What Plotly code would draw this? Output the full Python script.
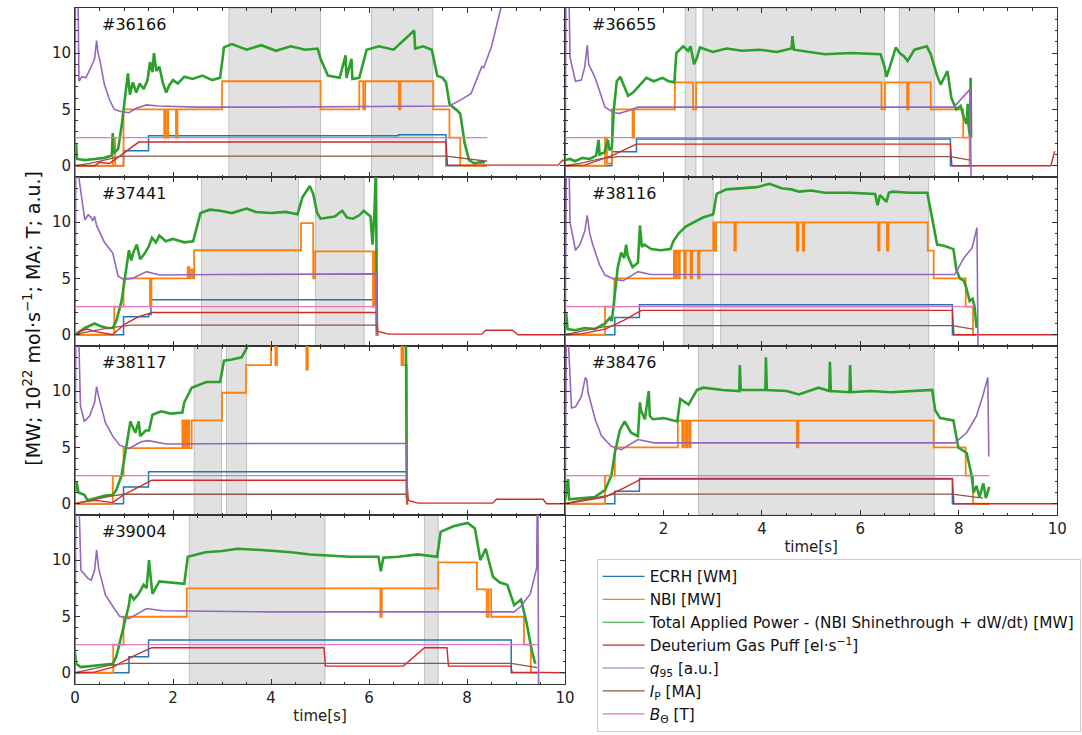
import plotly.graph_objects as go

# ---------------------------------------------------------------
# Discharge overview: heating, fuelling and equilibrium traces
# ---------------------------------------------------------------
shots = ["36166", "36655", "37441", "38116", "38117", "38476", "39004"]
grid_pos = [(0, 0), (0, 1), (1, 0), (1, 1), (2, 0), (2, 1), (3, 0)]

# shaded analysis windows [s]
spans_36166 = [(3.14, 5.01), (6.05, 7.30)]
spans_36655 = [(2.44, 2.66), (2.80, 6.49), (6.79, 7.51)]
spans_37441 = [(2.58, 4.56), (4.91, 5.90)]
spans_38116 = [(2.41, 3.01), (3.16, 7.39)]
spans_38117 = [(2.43, 2.99), (3.09, 3.50)]
spans_38476 = [(2.71, 7.50)]
spans_39004 = [(2.33, 5.10), (7.13, 7.41)]

# ---------------- #36166 : (t [s], value) ----------------
ecrh_36166 = [(0, 0), (0.99, 1.33), (1.5, 2.66), (6.6, 2.75), (7.57, 0), (8.4, 0)]
nbi_36166 = [(0, 0), (0.77, 2.5), (0.82, 0), (0.99, 5.0), (1.82, 2.5), (1.84, 5.0), (1.88, 2.5),
             (1.9, 5.0), (2.06, 2.5), (2.09, 5.0), (3.0, 7.5), (5.01, 5.0), (5.8, 7.5), (5.88, 5.0),
             (5.92, 7.5), (6.61, 5.0), (6.64, 7.5), (7.31, 5.0), (7.64, 2.5), (7.86, 0), (8.4, 0)]
ptot_36166 = [(0.0, 0.7), (0.02, 2.0), (0.04, 0.6), (0.2, 0.5), (0.4, 0.6), (0.6, 0.7), (0.75, 0.9),
              (0.77, 2.9), (0.79, 1.1), (0.88, 1.5), (0.95, 3.5), (0.99, 5.0), (1.04, 7.0), (1.08, 8.2),
              (1.12, 6.3), (1.18, 7.4), (1.25, 6.5), (1.32, 7.3), (1.4, 6.8), (1.48, 7.6), (1.53, 9.2),
              (1.58, 8.3), (1.61, 10.0), (1.66, 8.4), (1.72, 8.8), (1.79, 7.4), (1.86, 6.5), (1.93, 7.2),
              (2.0, 7.6), (2.1, 7.3), (2.23, 7.9), (2.4, 7.7), (2.6, 8.0), (2.8, 7.6), (2.96, 7.8),
              (3.04, 10.5), (3.2, 10.8), (3.5, 10.3), (3.8, 10.7), (4.1, 10.2), (4.4, 10.6), (4.7, 10.3),
              (4.95, 10.4), (5.01, 9.5), (5.16, 8.0), (5.4, 7.8), (5.52, 9.8), (5.54, 7.8), (5.64, 9.5),
              (5.66, 7.7), (5.8, 7.8), (5.95, 10.3), (6.2, 10.6), (6.5, 10.3), (6.92, 12.0), (6.94, 10.4),
              (7.1, 10.6), (7.28, 10.3), (7.39, 8.0), (7.5, 7.8), (7.57, 7.4), (7.64, 5.5), (7.71, 5.2),
              (7.8, 4.9), (7.86, 4.6), (7.95, 2.0), (8.04, 0.5), (8.15, 0.2), (8.25, 0.3), (8.36, 0.3)]
gas_36166 = [(0, 0), (0.4, 0.0), (0.5, 0.3), (0.7, 0.2), (0.8, 0.5), (1.3, 2.1), (7.57, 2.1),
             (7.6, 0.05), (9.86, 0.05), (9.95, 0.5), (10, 0.4)]
q95_36166 = [(0.0, -1), (0.01, 20), (0.05, 20), (0.08, 7.5), (0.14, 7.9), (0.22, 7.8), (0.3, 8.5),
             (0.4, 9.5), (0.44, 11.1), (0.47, 10.0), (0.51, 9.3), (0.6, 7.2), (0.7, 5.9), (0.8, 5.0),
             (0.95, 4.8), (1.1, 4.7), (1.25, 5.1), (1.46, 5.4), (1.7, 5.3), (2.5, 5.2), (4.0, 5.2),
             (6.0, 5.25), (7.64, 5.3), (7.85, 5.8), (8.08, 6.4), (8.3, 8.8), (8.34, 8.7), (8.5, 10.6),
             (8.74, 14.5), (8.8, 16)]
ip_36166 = [(0, 0), (0.3, 0.2), (0.6, 0.5), (0.9, 0.8), (1.1, 0.85), (7.57, 0.85), (8.41, 0.4)]
bt_36166 = [(0, 2.5), (8.41, 2.5)]

# ---------------- #36655 ----------------
ecrh_36655 = [(0, 0), (0.95, 1.25), (1.45, 2.37), (7.83, 0), (8.25, 0)]
nbi_36655 = [(0, 0), (0.81, 2.5), (0.85, 0.2), (0.95, 5.0), (1.37, 2.5), (1.40, 5.0), (2.23, 7.4),
             (2.6, 5.0), (2.66, 7.4), (6.43, 5.0), (6.5, 7.4), (6.95, 5.0), (6.98, 7.4), (7.43, 5.0),
             (8.09, 2.5), (8.22, 0), (8.25, 0)]
ptot_36655 = [(0, 0.5), (0.1, 0.6), (0.2, 0.4), (0.35, 0.7), (0.5, 0.6), (0.63, 0.9), (0.68, 2.3),
              (0.7, 1.0), (0.8, 1.2), (0.87, 2.3), (0.9, 1.4), (0.95, 1.6), (0.99, 5.0), (1.05, 7.5),
              (1.12, 7.9), (1.18, 7.3), (1.28, 6.2), (1.38, 6.5), (1.48, 7.0), (1.65, 7.8), (1.8, 7.5),
              (1.98, 7.8), (2.1, 7.5), (2.22, 7.4), (2.26, 10.0), (2.4, 10.6), (2.5, 10.2), (2.55, 10.6),
              (2.62, 9.0), (2.68, 9.6), (2.74, 10.5), (3.0, 10.1), (3.28, 10.4), (3.6, 10.2), (3.95, 10.3),
              (4.3, 10.1), (4.6, 10.4), (4.62, 11.5), (4.65, 10.3), (5.02, 10.1), (5.28, 9.9), (5.8, 10.0),
              (6.41, 9.9), (6.49, 8.8), (6.53, 7.9), (6.6, 8.8), (6.72, 10.5), (6.8, 10.0), (6.89, 9.7),
              (6.96, 9.3), (7.1, 10.3), (7.35, 10.6), (7.43, 9.9), (7.56, 8.0), (7.63, 7.2), (7.77, 8.4),
              (7.85, 6.0), (7.95, 5.0), (8.04, 5.3), (8.1, 4.3), (8.16, 3.7), (8.18, 5.5), (8.2, 3.5),
              (8.23, 2.5), (8.24, 7.8), (8.25, 2.5)]
gas_36655 = [(0, 0), (0.4, 0.05), (0.95, 0.9), (1.2, 1.4), (1.45, 1.92), (7.83, 1.92), (7.86, 0.0),
             (9.87, 0.0), (9.95, 1.3)]
q95_36655 = [(0, -1), (0.02, 20), (0.06, 20), (0.1, 9.6), (0.21, 7.5), (0.33, 7.6), (0.4, 8.8),
             (0.45, 10.7), (0.48, 9.0), (0.61, 7.8), (0.81, 5.2), (1.0, 4.7), (1.1, 4.65), (1.3, 4.9),
             (1.48, 5.2), (3.0, 5.2), (6.0, 5.2), (7.9, 5.2), (8.23, 6.8), (8.25, -1)]
ip_36655 = [(0, 0), (0.3, 0.2), (0.7, 0.6), (1.08, 0.8), (7.83, 0.8), (8.23, 0.5)]
bt_36655 = [(0, 2.5), (8.23, 2.5)]

# ---------------- #37441 ----------------
ecrh_37441 = [(0, 0), (0.99, 1.6), (1.5, 1.8), (1.55, 3.1), (6.15, 0), (6.2, 0)]
nbi_37441 = [(0, 0), (0.8, 2.5), (0.99, 5.0), (1.53, 2.5), (1.56, 5.0), (2.3, 6.0), (2.33, 5.0),
             (2.36, 5.8), (2.4, 5.0), (2.43, 7.5), (4.61, 9.9), (4.86, 5.0), (4.9, 7.4), (6.08, 2.5),
             (6.11, 7.4), (6.15, 0), (6.2, 0)]
ptot_37441 = [(0, 0), (0.1, 0.3), (0.2, 0.6), (0.3, 0.8), (0.4, 1.0), (0.5, 0.8), (0.65, 0.6),
              (0.77, 0.6), (0.84, 1.2), (0.95, 3.0), (1.06, 6.0), (1.1, 7.5), (1.15, 6.6), (1.19, 7.3),
              (1.26, 8.0), (1.33, 6.7), (1.42, 7.2), (1.5, 7.8), (1.57, 8.6), (1.65, 8.2), (1.72, 8.8),
              (1.85, 8.3), (2.0, 8.5), (2.23, 8.2), (2.41, 8.3), (2.5, 9.8), (2.56, 10.8), (2.75, 11.1),
              (2.96, 11.0), (3.2, 10.8), (3.5, 11.2), (3.69, 10.9), (4.0, 10.8), (4.3, 10.9), (4.54, 10.7),
              (4.64, 12.2), (4.72, 12.8), (4.79, 13.2), (4.86, 12.5), (4.94, 10.8), (5.01, 10.3),
              (5.16, 10.4), (5.3, 10.5), (5.45, 11.0), (5.55, 10.4), (5.67, 10.3), (5.8, 10.6),
              (5.89, 11.0), (6.03, 10.5), (6.07, 8.0), (6.11, 11.0), (6.14, 15.0), (6.16, 0.5)]
gas_37441 = [(0, 0), (0.1, 0.3), (0.25, 0.5), (0.4, 0.3), (0.77, 0.0), (1.0, 0.9), (1.3, 1.6),
             (1.58, 1.98), (6.15, 1.98), (6.18, 0.3), (6.4, 0.05), (8.3, 0.05), (8.38, 0.4),
             (8.92, 0.4), (9.04, 0.0), (10, 0.0)]
q95_37441 = [(0, -1), (0.02, 20), (0.06, 14.5), (0.15, 11.7), (0.2, 10.2), (0.27, 10.65), (0.33, 10.4),
             (0.36, 10.1), (0.4, 10.5), (0.44, 9.7), (0.6, 8.2), (0.77, 7.25), (0.88, 5.2), (0.99, 4.9),
             (1.17, 5.0), (1.46, 5.6), (1.72, 5.3), (3.0, 5.35), (6.15, 5.4), (6.16, 0)]
ip_37441 = [(0, 0), (0.3, 0.3), (0.7, 0.6), (1.15, 0.86), (6.15, 0.86), (6.18, 0)]
bt_37441 = [(0, 2.5), (6.15, 2.5)]

# ---------------- #38116 ----------------
ecrh_38116 = [(0, 0), (1.01, 1.54), (1.51, 2.66), (7.87, 0), (8.35, 0)]
nbi_38116 = [(0, 0), (0.81, 2.5), (1.0, 5.0), (2.21, 7.46), (2.24, 5.0), (2.26, 7.46), (2.3, 5.0),
             (2.33, 7.46), (2.42, 5.0), (2.45, 7.46), (2.55, 5.0), (2.58, 7.46), (2.7, 5.0), (2.73, 7.46),
             (3.01, 9.97), (3.03, 7.46), (3.07, 9.97), (3.44, 7.46), (3.47, 9.97), (4.71, 7.46),
             (4.74, 9.97), (4.83, 7.46), (4.86, 9.97), (6.36, 7.46), (6.39, 9.97), (6.54, 7.46),
             (6.57, 9.97), (7.37, 7.46), (7.49, 5.0), (8.14, 2.5), (8.29, 0), (8.35, 0)]
ptot_38116 = [(0, 0.7), (0.02, 2.0), (0.05, 0.5), (0.2, 0.4), (0.4, 0.6), (0.6, 0.5), (0.81, 1.0),
              (0.91, 1.5), (0.95, 1.2), (1.01, 3.5), (1.07, 6.0), (1.14, 7.3), (1.2, 6.8), (1.24, 8.0),
              (1.27, 7.0), (1.37, 6.0), (1.48, 6.4), (1.52, 9.7), (1.56, 7.8), (1.61, 8.0), (1.75, 7.6),
              (1.94, 7.5), (2.14, 7.6), (2.2, 8.3), (2.31, 9.0), (2.45, 9.6), (2.61, 10.0), (2.8, 10.4),
              (3.01, 10.7), (3.08, 12.5), (3.28, 12.9), (3.6, 13.0), (3.9, 13.1), (4.15, 13.4),
              (4.4, 13.0), (4.6, 12.9), (4.75, 12.7), (5.0, 12.8), (5.28, 12.6), (5.8, 12.6), (6.3, 12.5),
              (6.35, 11.5), (6.4, 12.4), (6.53, 11.8), (6.58, 12.6), (6.65, 12.7), (7.0, 12.6),
              (7.36, 12.6), (7.42, 11.3), (7.56, 8.0), (7.7, 7.9), (7.89, 7.6), (7.95, 5.8), (8.02, 5.0),
              (8.1, 4.8), (8.15, 4.2), (8.22, 3.0), (8.28, 3.2), (8.32, 2.5), (8.36, 0.6)]
gas_38116 = [(0, 0), (0.35, 0.1), (0.81, 0.5), (1.2, 1.3), (1.55, 2.16), (7.87, 2.16), (7.9, 0.0),
             (10, 0.0)]
q95_38116 = [(0, -1), (0.03, 20), (0.06, 20), (0.1, 10.0), (0.21, 7.5), (0.3, 8.0), (0.4, 9.2),
             (0.45, 10.6), (0.5, 9.0), (0.56, 8.0), (0.7, 6.2), (0.81, 5.3), (1.01, 4.9), (1.18, 4.8),
             (1.48, 5.6), (1.74, 5.35), (3.0, 5.35), (7.92, 5.35), (8.1, 6.8), (8.27, 7.7), (8.37, 9.5),
             (8.39, -1)]
ip_38116 = [(0, 0), (0.3, 0.3), (0.7, 0.65), (1.04, 0.8), (7.87, 0.8), (8.29, 0.5)]
bt_38116 = [(0, 2.5), (8.32, 2.5)]

# ---------------- #38117 ----------------
ecrh_38117 = [(0, 0), (0.99, 1.49), (1.5, 2.84), (6.77, 0), (6.8, 0)]
nbi_38117 = [(0, 0), (0.77, 2.48), (0.99, 4.93), (2.19, 7.4), (2.22, 4.93), (2.25, 7.4), (2.28, 4.93),
             (2.31, 7.4), (2.33, 4.93), (2.38, 7.4), (3.0, 9.85), (3.49, 12.3), (4.0, 14.8), (4.09, 12.3),
             (4.12, 14.8), (4.72, 11.9), (4.75, 14.8), (6.66, 12.3), (6.68, 14.0), (6.7, 12.3), (6.77, 0),
             (6.8, 0)]
ptot_38117 = [(0, 1.0), (0.03, 2.0), (0.07, 1.0), (0.19, 0.8), (0.26, 0.3), (0.44, 0.5), (0.6, 0.7),
              (0.77, 0.8), (0.84, 1.2), (0.95, 2.5), (1.06, 5.5), (1.13, 7.3), (1.23, 6.3), (1.3, 7.3),
              (1.33, 6.0), (1.44, 6.5), (1.51, 6.5), (1.58, 7.9), (1.76, 8.2), (1.95, 8.0), (2.19, 8.1),
              (2.23, 9.0), (2.38, 10.3), (2.55, 10.6), (2.68, 10.8), (2.96, 10.8), (3.04, 12.7),
              (3.2, 12.8), (3.4, 13.0), (3.55, 14.2), (3.6, 16.5), (6.75, 16.5), (6.77, 0.5)]
gas_38117 = [(0, 0), (0.2, 0.2), (0.44, 0.3), (0.77, 0.1), (1.0, 0.8), (1.3, 1.5), (1.57, 2.09),
             (6.77, 2.09), (6.8, 0.3), (7.0, 0.05), (8.52, 0.05), (8.6, 0.4), (9.55, 0.4), (9.62, 0.0),
             (10, 0)]
q95_38117 = [(0, -1), (0.02, 20), (0.05, 20), (0.11, 8.7), (0.19, 7.3), (0.3, 7.8), (0.4, 9.0),
             (0.44, 10.4), (0.49, 9.4), (0.62, 7.2), (0.77, 6.0), (0.91, 5.2), (1.1, 4.9), (1.35, 5.5),
             (1.5, 5.6), (1.86, 5.3), (4.0, 5.35), (6.77, 5.35), (6.78, 0)]
ip_38117 = [(0, 0), (0.3, 0.3), (0.7, 0.65), (0.99, 0.84), (6.77, 0.84), (6.78, 0)]
bt_38117 = [(0, 2.5), (6.77, 2.5)]

# ---------------- #38476 ----------------
ecrh_38476 = [(0, 0), (1.01, 1.1), (1.51, 2.24), (7.87, 0), (8.62, 0)]
nbi_38476 = [(0, 0), (0.81, 2.5), (1.01, 5.0), (2.29, 7.37), (2.38, 5.0), (2.41, 7.37), (2.45, 5.0),
             (2.48, 7.37), (2.52, 5.0), (2.55, 7.37), (4.71, 5.0), (4.74, 7.37), (7.49, 5.0), (8.14, 2.5),
             (8.29, 0), (8.62, 0)]
ptot_38476 = [(0, 0.3), (0.06, 2.2), (0.08, 0.4), (0.3, 0.5), (0.6, 0.6), (0.81, 1.2), (0.94, 2.5),
              (1.01, 4.5), (1.11, 6.5), (1.21, 7.3), (1.34, 6.3), (1.48, 6.0), (1.52, 9.0), (1.54, 8.3),
              (1.62, 7.5), (1.7, 10.0), (1.72, 7.8), (1.78, 7.5), (2.0, 7.6), (2.28, 7.3), (2.34, 9.3),
              (2.51, 8.8), (2.68, 10.1), (2.81, 10.3), (3.2, 10.1), (3.54, 10.0), (3.55, 12.3),
              (3.57, 10.1), (4.07, 10.1), (4.08, 13.0), (4.1, 10.1), (4.5, 10.0), (4.75, 9.7),
              (5.15, 10.3), (5.37, 10.0), (5.38, 12.6), (5.4, 10.0), (5.78, 9.9), (5.79, 12.3),
              (5.81, 9.9), (6.2, 10.0), (6.62, 9.9), (7.0, 10.0), (7.46, 10.1), (7.52, 8.3), (7.62, 7.6),
              (7.89, 7.4), (7.99, 5.0), (8.16, 4.5), (8.26, 2.5), (8.3, 1.0), (8.36, 1.6), (8.42, 0.6),
              (8.5, 1.8), (8.55, 0.5), (8.62, 1.5)]
gas_38476 = [(0, 0), (0.3, 0.2), (0.81, 0.6), (1.2, 1.4), (1.55, 2.2), (7.87, 2.2), (7.9, 0.0),
             (10, 0.0)]
q95_38476 = [(0, -1), (0.03, 20), (0.07, 14), (0.13, 8.5), (0.21, 8.6), (0.33, 9.5), (0.41, 11.2),
             (0.44, 11.0), (0.47, 9.8), (0.61, 7.5), (0.74, 6.0), (0.94, 5.1), (1.14, 4.8), (1.48, 5.7),
             (1.81, 5.4), (4.0, 5.4), (7.92, 5.4), (8.16, 6.3), (8.36, 7.8), (8.49, 9.6), (8.59, 11.2),
             (8.61, 4.2)]
ip_38476 = [(0, 0), (0.3, 0.3), (0.7, 0.6), (1.01, 0.85), (7.87, 0.85), (8.49, 0.5)]
bt_38476 = [(0, 2.5), (8.62, 2.5)]

# ---------------- #39004 ----------------
ecrh_39004 = [(0, 0), (1.1, 1.42), (1.5, 2.9), (8.9, 0), (9.45, 0)]
nbi_39004 = [(0, 0), (0.78, 2.5), (0.99, 4.97), (2.28, 7.49), (6.23, 4.97), (6.26, 7.49), (7.41, 9.8),
             (8.2, 7.4), (8.4, 4.97), (8.44, 7.4), (8.49, 4.97), (9.16, 2.5), (9.3, 0), (9.45, 0)]
ptot_39004 = [(0, 1.8), (0.02, 0.8), (0.12, 0.5), (0.3, 0.6), (0.5, 0.7), (0.77, 0.8), (0.84, 1.4),
              (0.99, 4.0), (1.1, 6.0), (1.13, 7.0), (1.2, 6.5), (1.3, 7.0), (1.4, 7.8), (1.46, 7.5),
              (1.51, 10.0), (1.55, 8.2), (1.58, 7.0), (1.72, 8.1), (2.0, 8.0), (2.23, 7.9), (2.3, 10.3),
              (2.66, 10.7), (3.0, 10.8), (3.32, 11.0), (3.8, 10.9), (4.41, 10.7), (4.8, 10.5),
              (5.17, 10.4), (5.6, 10.3), (6.19, 10.3), (6.24, 9.0), (6.29, 10.2), (6.6, 10.3),
              (6.99, 10.5), (7.39, 10.3), (7.46, 12.5), (7.72, 13.0), (8.01, 13.3), (8.16, 12.8),
              (8.27, 10.0), (8.38, 11.0), (8.53, 8.5), (8.67, 8.0), (8.82, 7.8), (8.96, 6.0), (9.1, 6.5),
              (9.21, 4.5), (9.32, 2.0), (9.39, 0.8)]
gas_39004 = [(0, 0), (0.4, 0.05), (0.77, 0.5), (1.2, 1.5), (1.57, 2.22), (5.08, 2.22), (5.11, 0.59),
             (6.7, 0.59), (7.13, 2.22), (7.59, 2.22), (7.62, 0.59), (8.89, 0.59), (8.92, 0.05), (10, 0.0)]
q95_39004 = [(0, -1), (0.02, 20), (0.05, 20), (0.12, 9.1), (0.26, 8.4), (0.33, 8.2), (0.4, 9.1),
             (0.44, 10.9), (0.48, 9.3), (0.62, 6.9), (0.77, 5.9), (0.91, 5.0), (1.1, 4.8), (1.46, 5.7),
             (1.79, 5.5), (4.0, 5.4), (8.96, 5.4), (9.1, 5.9), (9.29, 7.0), (9.42, 9.3), (9.44, 20),
             (9.46, -2)]
ip_39004 = [(0, 0), (0.3, 0.3), (0.7, 0.65), (1.06, 0.83), (8.9, 0.83), (9.43, 0.45)]
bt_39004 = [(0, 2.5), (9.45, 2.5)]

# ---------------- signal definitions ----------------
sig_labels = [
    "ECRH [WM]",
    "NBI [MW]",
    "Total Applied Power - (NBI Shinethrough + dW/dt) [MW]",
    "Deuterium Gas Puff [el·s<sup>−1</sup>]",
    "<i>q</i><sub>95</sub> [a.u.]",
    "<i>I</i><sub>P</sub> [MA]",
    "<i>B</i><sub>Θ</sub> [T]",
]
sig_colors = ["#1f77b4", "#ff7f0e", "#2ca02c", "#d62728", "#9467bd", "#8c564b", "#e377c2"]
sig_shapes = ["hv", "hv", "linear", "linear", "linear", "linear", "linear"]
sig_widths = [1.5, 1.8, 2.6, 1.4, 1.6, 1.3, 1.2]

traces_by_shot = {
    "36166": [ecrh_36166, nbi_36166, ptot_36166, gas_36166, q95_36166, ip_36166, bt_36166],
    "36655": [ecrh_36655, nbi_36655, ptot_36655, gas_36655, q95_36655, ip_36655, bt_36655],
    "37441": [ecrh_37441, nbi_37441, ptot_37441, gas_37441, q95_37441, ip_37441, bt_37441],
    "38116": [ecrh_38116, nbi_38116, ptot_38116, gas_38116, q95_38116, ip_38116, bt_38116],
    "38117": [ecrh_38117, nbi_38117, ptot_38117, gas_38117, q95_38117, ip_38117, bt_38117],
    "38476": [ecrh_38476, nbi_38476, ptot_38476, gas_38476, q95_38476, ip_38476, bt_38476],
    "39004": [ecrh_39004, nbi_39004, ptot_39004, gas_39004, q95_39004, ip_39004, bt_39004],
}
spans_by_shot = {
    "36166": spans_36166, "36655": spans_36655, "37441": spans_37441, "38116": spans_38116,
    "38117": spans_38117, "38476": spans_38476, "39004": spans_39004,
}

# ---------------- layout geometry (pixels) ----------------
W, H = 1082, 735
col_px = [(71, 568), (568, 1067)]
row_top, row_h = 8, 169
FONT = "DejaVu Sans"
AX_COL = "#333333"

fig = go.Figure()
layout = dict(
    width=W, height=H, margin=dict(l=0, r=0, t=0, b=0),
    paper_bgcolor="white", plot_bgcolor="white",
    font=dict(family=FONT, size=15, color="#222222"),
    showlegend=True,
)
shapes, annotations = [], []

for i, shot in enumerate(shots):
    r, c = grid_pos[i]
    n = "" if i == 0 else str(i + 1)
    xa, ya = "x" + n, "y" + n
    x0, x1 = col_px[c]
    ytop = row_top + r * row_h
    ybot = ytop + row_h
    bottom_panel = (i == 5 or i == 6)

    xaxis = dict(
        domain=[x0 / W, x1 / W], anchor=ya, range=[0, 10],
        showline=True, linecolor=AX_COL, linewidth=1, mirror="allticks",
        ticks="inside", ticklen=5, tickwidth=1, tickcolor=AX_COL,
        minor=dict(ticks="inside", dtick=0.5, ticklen=2.5, tickcolor=AX_COL),
        tickvals=([2, 4, 6, 8, 10] if c == 1 else [0, 2, 4, 6, 8, 10]),
        showticklabels=bottom_panel, showgrid=False, zeroline=False,
        tickfont=dict(size=15, family=FONT, color="#222222"),
    )
    if bottom_panel:
        xaxis["title"] = dict(text="time[s]", font=dict(size=15, family=FONT), standoff=4)
    layout["xaxis" + n] = xaxis
    layout["yaxis" + n] = dict(
        domain=[1 - ybot / H, 1 - ytop / H], anchor=xa, range=[-1, 14],
        showline=True, linecolor=AX_COL, linewidth=1, mirror="allticks",
        ticks="inside", ticklen=5, tickwidth=1, tickcolor=AX_COL,
        minor=dict(ticks="inside", dtick=1, ticklen=2.5, tickcolor=AX_COL),
        tickvals=[0, 5, 10], showticklabels=(c == 0),
        showgrid=False, zeroline=False,
        tickfont=dict(size=15, family=FONT, color="#222222"),
    )

    # shaded windows
    for (a, b) in spans_by_shot[shot]:
        shapes.append(dict(type="rect", xref=xa, yref=ya + " domain", x0=a, x1=b, y0=0, y1=1,
                           fillcolor="rgba(128,128,128,0.24)",
                           line=dict(color="rgba(110,110,110,0.35)", width=1), layer="below"))

    # signals
    for k, series in enumerate(traces_by_shot[shot]):
        fig.add_trace(go.Scatter(
            x=[p[0] for p in series], y=[p[1] for p in series],
            mode="lines", xaxis=xa, yaxis=ya, showlegend=False,
            line=dict(color=sig_colors[k], width=sig_widths[k], shape=sig_shapes[k]),
            hoverinfo="skip",
        ))

    annotations.append(dict(text="#" + shot, xref=xa, yref=ya, x=0.5, y=12.5,
                            xanchor="left", yanchor="middle", showarrow=False,
                            font=dict(size=16, family=FONT, color="#111111")))

# legend entries
for k, lab in enumerate(sig_labels):
    fig.add_trace(go.Scatter(x=[None], y=[None], mode="lines", name=lab,
                             line=dict(color=sig_colors[k], width=1.2)))

annotations.append(dict(
    text="[MW; 10<sup>22</sup> mol·s<sup>−1</sup>; MA; T; a.u.]",
    xref="paper", yref="paper", x=27 / W, y=1 - 318 / H, textangle=-90,
    xanchor="center", yanchor="middle", showarrow=False,
    font=dict(size=19, family=FONT, color="#111111")))

layout["shapes"] = shapes
layout["annotations"] = annotations
layout["legend"] = dict(
    x=600 / W, y=1 - 559 / H, xanchor="left", yanchor="top",
    bgcolor="white", bordercolor="#cccccc", borderwidth=1,
    font=dict(size=15.3, family=FONT, color="#111111"),
    itemwidth=42,
)
fig.update_layout(**layout)

fig.write_html("out.html")
